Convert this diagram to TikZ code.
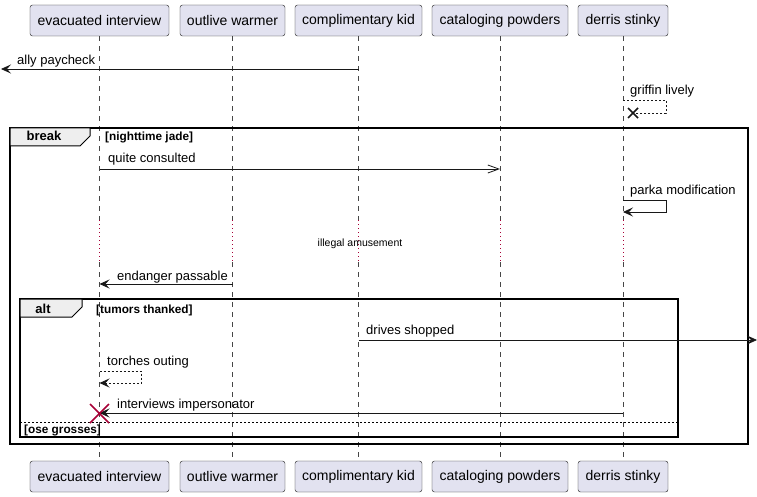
\documentclass[tikz,border=0pt]{standalone}
\usepackage{fontspec}
\setmainfont{Liberation Sans}
\usepackage{xcolor}
\usepackage{tikz}
\usetikzlibrary{arrows.meta, positioning}
\definecolor{partfill}{HTML}{E2E2F0}
\definecolor{inkclr}{HTML}{181818}
\definecolor{delayclr}{HTML}{A80036}
\definecolor{tabfill}{HTML}{EEEEEE}
\newcommand{\msgfont}{\fontsize{13}{15}\selectfont}
\newcommand{\grpfont}{\fontsize{11.8}{13}\selectfont\bfseries}

\begin{document}
\begin{tikzpicture}[x=1pt, y=-1pt,
    part/.style={draw=inkclr, fill=partfill, rounded corners=2.5pt, minimum height=31pt,
                 inner sep=0pt, font=\fontsize{14}{16}\selectfont},
    lifeline/.style={draw=inkclr!80, line width=0.5pt, dash pattern=on 5pt off 5pt},
    delayline/.style={draw=delayclr, line width=0.8pt, dash pattern=on 1pt off 3pt},
    msg/.style={draw=inkclr, line width=0.8pt, -{Stealth[length=10pt, width=9pt, inset=4pt]}},
    asyncmsg/.style={draw=inkclr, line width=0.8pt, -{Straight Barb[length=11pt, width=8pt]}},
    retmsg/.style={msg, dash pattern=on 2pt off 2pt},
    label/.style={anchor=base west, inner sep=0pt, font=\msgfont},
    frame/.style={draw=black, line width=1.5pt},
    tab/.style={draw=black, fill=tabfill, line width=1pt},
    guard/.style={anchor=base west, inner sep=0pt, font=\grpfont}]

    \useasboundingbox (0,0) rectangle (757,497);

    % Participants, top and bottom
    \node[part, minimum width=139pt] (evT) at (99.5,20.5) {evacuated interview};
    \node[part, minimum width=105pt] (owT) at (232.5,20.5) {outlive warmer};
    \node[part, minimum width=127pt] (ckT) at (358.5,20.5) {complimentary kid};
    \node[part, minimum width=136pt] (cpT) at (500,20.5) {cataloging powders};
    \node[part, minimum width=90pt]  (dsT) at (623,20.5) {derris stinky};
    \node[part, minimum width=139pt] (evB) at (99.5,476.5) {evacuated interview};
    \node[part, minimum width=105pt] (owB) at (232.5,476.5) {outlive warmer};
    \node[part, minimum width=127pt] (ckB) at (358.5,476.5) {complimentary kid};
    \node[part, minimum width=136pt] (cpB) at (500,476.5) {cataloging powders};
    \node[part, minimum width=90pt]  (dsB) at (623,476.5) {derris stinky};

    % Lifelines, dotted during the delay
    \coordinate (dlyT) at (0,220);
    \coordinate (dlyB) at (0,262);
    \foreach \p in {ev,ow,ck,cp,ds} {
        \draw[lifeline] (\p T.south) -- (\p T.south |- dlyT);
        \draw[delayline] (\p T.south |- dlyT) -- (\p T.south |- dlyB);
        \draw[lifeline] (\p T.south |- dlyB) -- (\p B.north);
    }

    % Break frame
    \draw[frame] (10,128) rectangle (748,444);
    \draw[tab] (10,128) -- (90,128) -- (90,136) -- (80,146) -- (10,146) -- cycle;
    \node[anchor=base, inner sep=0pt, font=\fontsize{13}{15}\selectfont\bfseries] (brk) at (44,141) {break};
    \node[guard] (brkG) at (105,141) {[nighttime jade]};

    % Alt frame
    \draw[frame] (20,299) rectangle (678,437);
    \draw[tab] (20,299) -- (82,299) -- (82,307) -- (72,317) -- (20,317) -- cycle;
    \node[anchor=base, inner sep=0pt, font=\fontsize{13}{15}\selectfont\bfseries] (alt) at (43,313) {alt};
    \node[guard] (altG) at (96,313) {[tumors thanked]};
    \draw[draw=black, line width=0.8pt, dash pattern=on 2pt off 2pt] (20,422) -- (678,422);
    \node[guard] (elseG) at (24,433) {[ose grosses]};

    % Messages
    \coordinate (lostL) at (1,69);
    \draw[msg] (ckT.south |- lostL) -- (lostL);
    \node[label] (m1) at (17,65) {ally paycheck};

    \coordinate (grifA) at (666,100);
    \coordinate (grifB) at (666,113);
    \coordinate (grifX) at (633,113);
    \draw[inkclr, line width=0.8pt, dash pattern=on 2pt off 2pt]
        (dsT.south |- grifA) -- (grifA) -- (grifB) -- (grifX);
    \draw[inkclr, line width=1.5pt] ([shift={(-5,-5)}]grifX) -- ([shift={(5,5)}]grifX)
        ([shift={(-5,5)}]grifX) -- ([shift={(5,-5)}]grifX);
    \node[label] (m2) at (630,95) {griffin lively};

    \coordinate (qc) at (0,169);
    \draw[asyncmsg] (evT.south |- qc) -- (cpT.south |- qc);
    \node[label] (m3) at (108,163) {quite consulted};

    \coordinate (pmA) at (666,200);
    \coordinate (pmB) at (666,212);
    \draw[msg] (dsT.south |- pmA) -- (pmA) -- (pmB) -- (dsT.south |- pmB);
    \node[label] (m4) at (630,194) {parka modification};

    \node[anchor=base, inner sep=0pt, font=\fontsize{10.5}{12}\selectfont] (dly) at (360,246) {illegal amusement};

    \coordinate (ep) at (0,284);
    \draw[msg] (owT.south |- ep) -- (evT.south |- ep);
    \node[label] (m5) at (117,280) {endanger passable};

    \coordinate (lostR) at (757,340);
    \draw[msg] (ckT.south |- lostR) -- (lostR);
    \node[label] (m6) at (366,334) {drives shopped};

    \coordinate (toA) at (141,371);
    \coordinate (toB) at (141,383);
    \draw[retmsg] (evT.south |- toA) -- (toA) -- (toB) -- (evT.south |- toB);
    \node[label] (m7) at (107,365) {torches outing};

    \coordinate (ii) at (0,413);
    \draw[msg] (dsT.south |- ii) -- (evT.south |- ii);
    \node[label] (m8) at (117,408) {interviews impersonator};
    \draw[delayclr, line width=1.5pt] (90,404) -- (109,423) (90,423) -- (109,404);
\end{tikzpicture}
\end{document}
